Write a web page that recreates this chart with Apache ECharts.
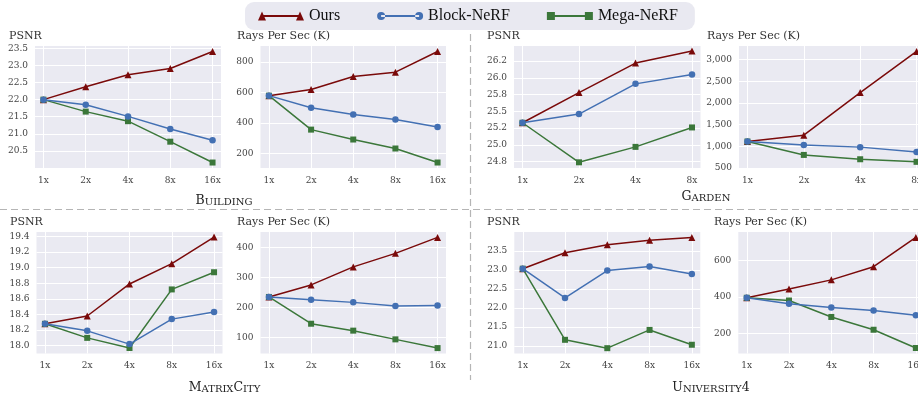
<!DOCTYPE html>
<html>
<head>
<meta charset="utf-8">
<script src="https://cdn.jsdelivr.net/npm/echarts@6/dist/echarts.min.js"></script>
<style>
html,body{margin:0;padding:0;background:#fff;}
#chart{width:918px;height:398px;}
</style>
</head>
<body>
<div id="chart"></div>
<script>
// ---------------- DATA ----------------
const cats5 = ['1x', '2x', '4x', '8x', '16x'];
const cats4 = ['1x', '2x', '4x', '8x'];
const seriesNames = ['Ours', 'Block-NeRF', 'Mega-NeRF'];

const buildingPsnrOurs  = [22.00, 22.38, 22.73, 22.91, 23.41];
const buildingPsnrBlock = [22.00, 21.85, 21.51, 21.14, 20.81];
const buildingPsnrMega  = [22.00, 21.65, 21.37, 20.77, 20.16];
const buildingRaysOurs  = [580, 620, 706, 734, 870];
const buildingRaysBlock = [580, 501, 457, 423, 374];
const buildingRaysMega  = [580, 357, 292, 233, 141];

const gardenPsnrOurs  = [25.33, 25.78, 26.22, 26.40];
const gardenPsnrBlock = [25.33, 25.46, 25.91, 26.05];
const gardenPsnrMega  = [25.33, 24.74, 24.97, 25.26];
const gardenRaysOurs  = [1110, 1255, 2240, 3190];
const gardenRaysBlock = [1110, 1030, 980, 870];
const gardenRaysMega  = [1110, 800, 700, 640];

const matrixPsnrOurs  = [18.28, 18.38, 18.79, 19.05, 19.39];
const matrixPsnrBlock = [18.28, 18.19, 18.02, 18.34, 18.43];
const matrixPsnrMega  = [18.28, 18.10, 17.97, 18.72, 18.94];
const matrixRaysOurs  = [235, 275, 335, 380, 433];
const matrixRaysBlock = [235, 226, 217, 205, 207];
const matrixRaysMega  = [235, 146, 123, 94, 65];

const univPsnrOurs  = [23.03, 23.45, 23.66, 23.78, 23.85];
const univPsnrBlock = [23.03, 22.26, 22.98, 23.09, 22.89];
const univPsnrMega  = [23.03, 21.16, 20.94, 21.42, 21.03];
const univRaysOurs  = [395, 443, 493, 565, 725];
const univRaysBlock = [395, 362, 342, 325, 300];
const univRaysMega  = [395, 380, 290, 220, 120];

// tick values and labels
const buildingPsnrTicks = [20.5, 21.0, 21.5, 22.0, 22.5, 23.0, 23.5];
const buildingPsnrLabels = ['20.5', '21.0', '21.5', '22.0', '22.5', '23.0', '23.5'];
const buildingRaysTicks = [200, 400, 600, 800];
const buildingRaysLabels = ['200', '400', '600', '800'];
const gardenPsnrTicks = [24.75, 25.0, 25.25, 25.5, 25.75, 26.0, 26.25];
const gardenPsnrLabels = ['24.8', '25.0', '25.2', '25.5', '25.8', '26.0', '26.2'];
const gardenRaysTicks = [500, 1000, 1500, 2000, 2500, 3000];
const gardenRaysLabels = ['500', '1,000', '1,500', '2,000', '2,500', '3,000'];
const matrixPsnrTicks = [18.0, 18.2, 18.4, 18.6, 18.8, 19.0, 19.2, 19.4];
const matrixPsnrLabels = ['18.0', '18.2', '18.4', '18.6', '18.8', '19.0', '19.2', '19.4'];
const matrixRaysTicks = [100, 200, 300, 400];
const matrixRaysLabels = ['100', '200', '300', '400'];
const univPsnrTicks = [21.0, 21.5, 22.0, 22.5, 23.0, 23.5];
const univPsnrLabels = ['21.0', '21.5', '22.0', '22.5', '23.0', '23.5'];
const univRaysTicks = [200, 400, 600];
const univRaysLabels = ['200', '400', '600'];

const panelTitles = ['PSNR', 'Rays Per Sec (K)', 'PSNR', 'Rays Per Sec (K)', 'PSNR', 'Rays Per Sec (K)', 'PSNR', 'Rays Per Sec (K)'];

// ---------------- LAYOUT / STYLE ----------------
const colors = ['#7a0a0a', '#4370b3', '#3b773a'];
const symbols = ['triangle', 'circle', 'rect'];
const symbolSizes = [7, 6.5, 6];
const FONT = 'DejaVu Serif';

const panels = [
  {cats: cats5, ours: buildingPsnrOurs, block: buildingPsnrBlock, mega: buildingPsnrMega, ticks: buildingPsnrTicks, labels: buildingPsnrLabels, min: 20.0, max: 23.57, left: 35, top: 46, width: 186, height: 122, tx: 9, ty: 36},
  {cats: cats5, ours: buildingRaysOurs, block: buildingRaysBlock, mega: buildingRaysMega, ticks: buildingRaysTicks, labels: buildingRaysLabels, min: 105, max: 906, left: 260.5, top: 46, width: 185.5, height: 122, tx: 237, ty: 36},
  {cats: cats4, ours: gardenPsnrOurs, block: gardenPsnrBlock, mega: gardenPsnrMega, ticks: gardenPsnrTicks, labels: gardenPsnrLabels, min: 24.655, max: 26.475, left: 514, top: 46, width: 186.5, height: 122, tx: 487, ty: 36},
  {cats: cats4, ours: gardenRaysOurs, block: gardenRaysBlock, mega: gardenRaysMega, ticks: gardenRaysTicks, labels: gardenRaysLabels, min: 498, max: 3315, left: 739, top: 46, width: 186, height: 122, tx: 707, ty: 36},
  {cats: cats5, ours: matrixPsnrOurs, block: matrixPsnrBlock, mega: matrixPsnrMega, ticks: matrixPsnrTicks, labels: matrixPsnrLabels, min: 17.90, max: 19.455, left: 36.5, top: 232, width: 186, height: 121.5, tx: 10, ty: 222},
  {cats: cats5, ours: matrixRaysOurs, block: matrixRaysBlock, mega: matrixRaysMega, ticks: matrixRaysTicks, labels: matrixRaysLabels, min: 47, max: 451, left: 260.5, top: 232, width: 185.5, height: 121.5, tx: 237, ty: 222},
  {cats: cats5, ours: univPsnrOurs, block: univPsnrBlock, mega: univPsnrMega, ticks: univPsnrTicks, labels: univPsnrLabels, min: 20.80, max: 23.995, left: 514.3, top: 232, width: 186, height: 121.5, tx: 487, ty: 222},
  {cats: cats5, ours: univRaysOurs, block: univRaysBlock, mega: univRaysMega, ticks: univRaysTicks, labels: univRaysLabels, min: 90, max: 755, left: 738.3, top: 232, width: 186, height: 121.5, tx: 714, ty: 222}
];

const grids = [], xAxes = [], yAxes = [], series = [], graphics = [];

panels.forEach((p, g) => {
  const n = p.cats.length;
  const pad = (n - 1) * 0.05;
  grids.push({left: p.left, top: p.top, width: p.width, height: p.height, show: true, backgroundColor: '#eaeaf2', borderWidth: 0, containLabel: false, outerBoundsMode: 'none'});
  const xIdx = p.cats.map((c, i) => i);
  xAxes.push({
    type: 'value', gridIndex: g, min: -pad, max: n - 1 + pad,
    axisLine: {show: false},
    axisTick: {show: false, customValues: xIdx},
    axisLabel: {customValues: xIdx, formatter: v => p.cats[Math.round(v)] || '', margin: 8, fontFamily: FONT, fontSize: 9, color: '#444'},
    splitLine: {show: true, lineStyle: {color: '#ffffff', width: 1}}
  });
  yAxes.push({
    type: 'value', gridIndex: g, min: p.min, max: p.max,
    axisLine: {show: false},
    axisTick: {show: false, customValues: p.ticks},
    axisLabel: {customValues: p.ticks, formatter: v => {
      const i = p.ticks.findIndex(t => Math.abs(t - v) < 1e-6);
      return i >= 0 ? p.labels[i] : '';
    }, margin: 7, fontFamily: FONT, fontSize: 9, color: '#444'},
    splitLine: {show: true, lineStyle: {color: '#ffffff', width: 1}}
  });
  const sets = [p.ours, p.block, p.mega];
  [0, 2, 1].forEach((k, order) => {
    series.push({
      type: 'line', name: seriesNames[k], xAxisIndex: g, yAxisIndex: g,
      data: sets[k].map((v, i) => [i, v]),
      symbol: symbols[k], symbolSize: symbolSizes[k], showSymbol: true,
      color: colors[k],
      lineStyle: {width: 1.5, color: colors[k]},
      itemStyle: {color: colors[k]},
      z: 2 + order, animation: false, silent: true
    });
  });
  graphics.push({type: 'text', x: p.tx, y: p.ty, style: {text: panelTitles[g], fontFamily: FONT, fontSize: 11, fill: '#333', textVerticalAlign: 'middle', textAlign: 'left'}});
});

// scene captions (small caps simulated)
const capRich = {
  b: {fontFamily: FONT, fontSize: 12.5, fill: '#222', verticalAlign: 'bottom', lineHeight: 14},
  s: {fontFamily: FONT, fontSize: 10, fill: '#222', verticalAlign: 'bottom', lineHeight: 14}
};
[
  {t: '{b|B}{s|UILDING}', x: 224, y: 200},
  {t: '{b|G}{s|ARDEN}', x: 706, y: 196},
  {t: '{b|M}{s|ATRIX}{b|C}{s|ITY}', x: 224.5, y: 387},
  {t: '{b|U}{s|NIVERSITY}{b|4}', x: 711, y: 387}
].forEach(c => graphics.push({type: 'text', x: c.x, y: c.y, style: {text: c.t, rich: capRich, textAlign: 'center', textVerticalAlign: 'middle'}}));

// dashed separators
graphics.push({type: 'line', shape: {x1: 0, y1: 209.5, x2: 918, y2: 209.5}, style: {stroke: '#b5b5b5', lineWidth: 1.2, lineDash: [7, 4]}, z: -1});
graphics.push({type: 'line', shape: {x1: 470.5, y1: 34, x2: 470.5, y2: 380}, style: {stroke: '#b5b5b5', lineWidth: 1.2, lineDash: [7, 4]}, z: -1});

const iconOurs  = 'path://M0,11L4,2L8,11ZM4,5.4L42,5.4L42,7.6L4,7.6ZM38,11L42,2L46,11Z';
const iconBlock = 'path://M0,6.5A4,4 0 1,0 8,6.5A4,4 0 1,0 0,6.5ZM4,5.4L42,5.4L42,7.6L4,7.6ZM38,6.5A4,4 0 1,0 46,6.5A4,4 0 1,0 38,6.5Z';
const iconMega  = 'path://M0,2.5L8,2.5L8,10.5L0,10.5ZM4,5.4L42,5.4L42,7.6L4,7.6ZM38,2.5L46,2.5L46,10.5L38,10.5Z';

const option = {
  animation: false,
  backgroundColor: '#ffffff',
  legend: {
    left: 245, top: 2,
    padding: [6, 17, 6, 13],
    itemGap: 37, itemWidth: 46, itemHeight: 11,
    backgroundColor: '#e9e9f1', borderRadius: 9,
    textStyle: {fontFamily: 'Liberation Serif', fontSize: 16, color: '#111'},
    data: [
      {name: 'Ours', icon: iconOurs},
      {name: 'Block-NeRF', icon: iconBlock},
      {name: 'Mega-NeRF', icon: iconMega}
    ]
  },
  grid: grids, xAxis: xAxes, yAxis: yAxes, series: series,
  graphic: graphics
};

const chart = echarts.init(document.getElementById('chart'), null, {renderer: 'canvas'});
chart.setOption(option);
</script>
</body>
</html>
